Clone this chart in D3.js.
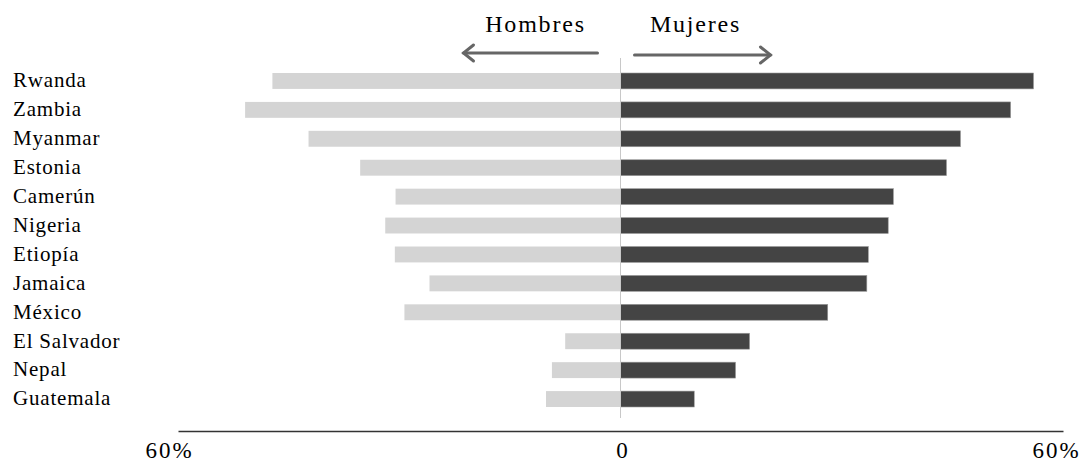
<!DOCTYPE html>
<html>
<head>
<meta charset="utf-8">
<script src="https://cdn.jsdelivr.net/npm/d3@7"></script>
<style>
  body { margin: 0; background: #fff; }
  svg { display: block; font-family: "Liberation Serif", "Times New Roman", serif; }
</style>
</head>
<body>
<svg id="chart" width="1084" height="463"></svg>
<script>
// data (percent)
var countries = ["Rwanda", "Zambia", "Myanmar", "Estonia", "Camerún", "Nigeria",
                 "Etiopía", "Jamaica", "México", "El Salvador", "Nepal", "Guatemala"];
var hombres = [47.2, 50.9, 42.3, 35.3, 30.5, 31.9, 30.6, 25.9, 29.3, 7.5, 9.3, 10.1];
var mujeres = [56.0, 52.9, 46.1, 44.2, 37.0, 36.3, 33.6, 33.4, 28.1, 17.5, 15.6, 10.0];
var tickValues = [-60, 0, 60];
var tickLabels = ["60%", "0", "60%"];

var svg = d3.select("#chart");

var x = d3.scaleLinear().domain([-60, 60]).range([178, 1063]);
var y = d3.scaleBand().domain(countries).range([66.5, 413.5])
    .paddingInner(0.45).paddingOuter(0.225);

var rows = countries.map(function(c, i) {
    return { country: c, h: hombres[i], m: mujeres[i] };
});

// Hombres bars (left)
svg.selectAll(".bar-h")
    .data(rows)
    .enter().append("rect")
    .attr("class", "bar-h")
    .attr("x", d => x(-d.h))
    .attr("y", d => y(d.country))
    .attr("width", d => x(0) - x(-d.h))
    .attr("height", y.bandwidth())
    .attr("fill", "#d4d4d4");

// Mujeres bars (right)
svg.selectAll(".bar-m")
    .data(rows)
    .enter().append("rect")
    .attr("class", "bar-m")
    .attr("x", x(0))
    .attr("y", d => y(d.country))
    .attr("width", d => x(d.m) - x(0))
    .attr("height", y.bandwidth())
    .attr("fill", "#444")
    .attr("stroke", "#9a9a9a")
    .attr("stroke-width", 0.6);

// center line
svg.append("line")
    .attr("x1", x(0)).attr("x2", x(0))
    .attr("y1", 58).attr("y2", 418)
    .attr("stroke", "#c8c8c8")
    .attr("stroke-width", 1);

// country labels
svg.selectAll(".country")
    .data(countries)
    .enter().append("text")
    .attr("class", "country")
    .attr("x", 13)
    .attr("y", d => y(d) + y.bandwidth() / 2)
    .attr("dy", "0.3em")
    .style("font-size", "21px")
    .style("letter-spacing", "0.8px")
    .attr("fill", "#000")
    .text(d => d);

// bottom axis
var axis = svg.append("g")
    .attr("class", "x-axis")
    .attr("transform", "translate(0,431)")
    .call(d3.axisBottom(x)
        .tickValues(tickValues)
        .tickSize(0)
        .tickPadding(11)
        .tickFormat((d, i) => tickLabels[i]));

axis.select(".domain").attr("stroke", "#333").attr("stroke-width", 1.5);
axis.selectAll("text")
    .style("font-family", "'Liberation Serif', 'Times New Roman', serif")
    .style("font-size", "23px")
    .style("letter-spacing", "2px")
    .attr("fill", "#000")
    .attr("dx", (d, i) => [-9, 2, -7][i]);

// headers with arrows
svg.append("text")
    .attr("x", x(0) - 85).attr("y", 32)
    .attr("text-anchor", "middle")
    .style("font-size", "24px")
    .style("letter-spacing", "1.8px")
    .attr("fill", "#000")
    .text("Hombres");

svg.append("text")
    .attr("x", x(0) + 75).attr("y", 32)
    .attr("text-anchor", "middle")
    .style("font-size", "24px")
    .style("letter-spacing", "1.8px")
    .attr("fill", "#000")
    .text("Mujeres");

var arrow = svg.append("g")
    .attr("stroke", "#666")
    .attr("stroke-width", 3)
    .attr("fill", "none")
    .attr("stroke-linecap", "round");

arrow.append("line")
    .attr("x1", x(0) - 23).attr("x2", x(0) - 157)
    .attr("y1", 53).attr("y2", 53);
arrow.append("polyline")
    .attr("points", [[x(0) - 147, 45], [x(0) - 157, 53], [x(0) - 147, 61]].join(" "));

arrow.append("line")
    .attr("x1", x(0) + 14).attr("x2", x(0) + 150)
    .attr("y1", 55).attr("y2", 55);
arrow.append("polyline")
    .attr("points", [[x(0) + 140, 47], [x(0) + 150, 55], [x(0) + 140, 63]].join(" "));
</script>
</body>
</html>
